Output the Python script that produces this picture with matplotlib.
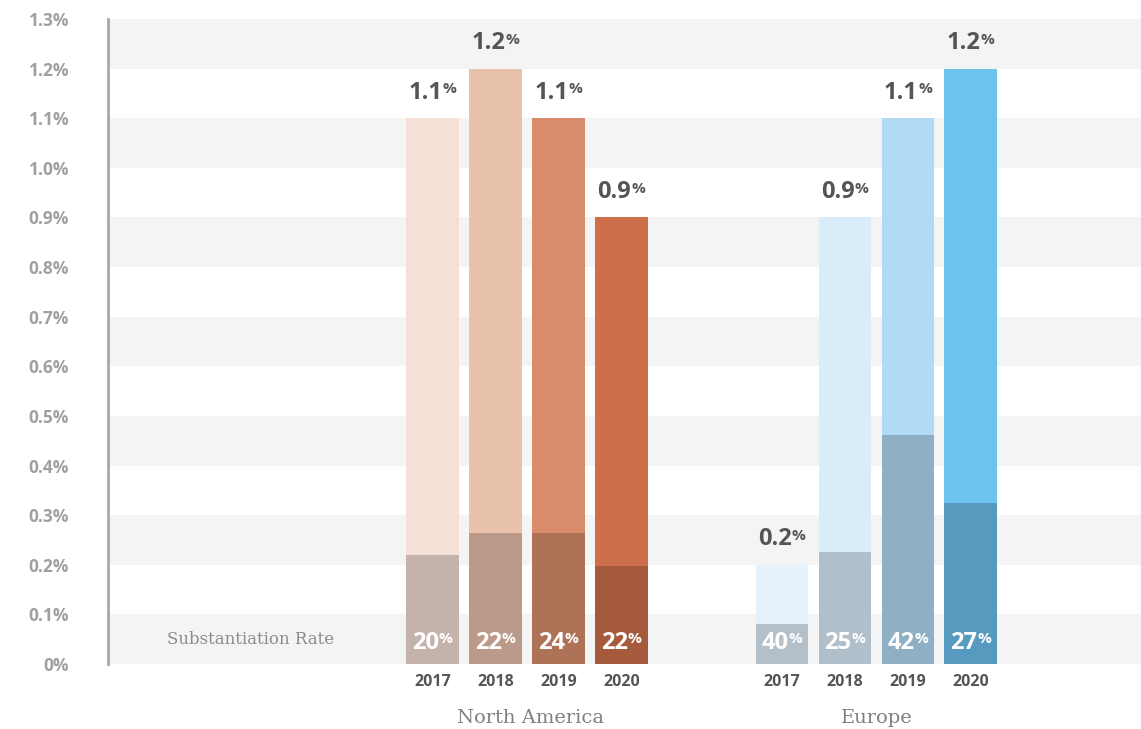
import numpy as np
import matplotlib.pyplot as plt

years = ["2017", "2018", "2019", "2020"]
regions = ["North America", "Europe"]
na_total = [1.1, 1.2, 1.1, 0.9]
na_rate = [20, 22, 24, 22]
eu_total = [0.2, 0.9, 1.1, 1.2]
eu_rate = [40, 25, 42, 27]

na_top = ["#F4E0D6", "#E9C2AC", "#D88C6B", "#CC6F4A"]
na_bottom = ["#C4B3AA", "#BC9A89", "#AE7257", "#A65A3C"]
eu_top = ["#E6F2FB", "#D9ECF9", "#B2DAF5", "#6CC3EE"]
eu_bottom = ["#B3C0C9", "#B1BFCA", "#8EAFC4", "#579ABF"]

sans = "Open Sans"
serif = "DejaVu Serif"

fig = plt.figure(figsize=(11.41, 7.29), dpi=100)
ax = fig.add_axes([0.0947, 0.0892, 0.9053, 0.8848])

# alternating grey bands
for k in range(0, 13, 2):
    ax.axhspan(k / 10, (k + 1) / 10, color="#F4F4F4", zorder=0, lw=0)

width = 0.84
na_x = np.arange(4)
eu_x = np.arange(4) + 5.55


def pct_label(x, y, num, size, color, va):
    # number with a small raised percent sign after it
    t = ax.annotate(num, xy=(x, y), xytext=(-5, 0), textcoords="offset points",
                    ha="center", va=va, fontsize=size, fontweight="bold",
                    color=color, family=sans, zorder=5)
    ax.annotate("%", xy=(1.0, 0.93), xycoords=t, ha="left", va="top",
                fontsize=size * 0.65, fontweight="bold", color=color,
                family=sans, zorder=5)


for xs, tot, rate, ctop, cbot in [(na_x, na_total, na_rate, na_top, na_bottom),
                                  (eu_x, eu_total, eu_rate, eu_top, eu_bottom)]:
    sub = [t * r / 100 for t, r in zip(tot, rate)]
    ax.bar(xs, tot, width=width, color=ctop, zorder=2, lw=0)
    ax.bar(xs, sub, width=width, color=cbot, zorder=3, lw=0)
    for x, t, r in zip(xs, tot, rate):
        pct_label(x, t + 0.027, f"{t:.1f}", 17, "#555555", "bottom")
        pct_label(x, 0.043, f"{r}", 17, "white", "center")

ax.set_xticks(list(na_x) + list(eu_x))
ax.set_xticklabels(years * 2, fontsize=11.5, fontweight="bold", color="#555555",
                   family=sans)
ax.tick_params(axis="x", length=0, pad=7)

ax.set_ylim(0, 1.3)
ax.set_xlim(-5.15, 11.25)
yt = np.arange(0, 14) / 10
ax.set_yticks(yt)
ax.set_yticklabels(["0%"] + [f"{v:.1f}%" for v in yt[1:]], fontsize=12.5,
                   fontweight="bold", color="#A0A0A0", family=sans)
ax.tick_params(axis="y", length=0, pad=28)

for s in ["top", "right", "bottom"]:
    ax.spines[s].set_visible(False)
ax.spines["left"].set_color("#A8A8A8")
ax.spines["left"].set_linewidth(2)

ax.text(-4.22, 0.05, "Substantiation Rate", fontsize=12, color="#8C8C8C",
        family=serif, va="center", ha="left")
ax.text(na_x.mean() + 0.05, -0.108, regions[0], fontsize=14, color="#808080",
        family=serif, ha="center", va="center")
ax.text(eu_x.mean(), -0.108, regions[1], fontsize=14, color="#808080",
        family=serif, ha="center", va="center")

fig.savefig("out.png", dpi=100)
